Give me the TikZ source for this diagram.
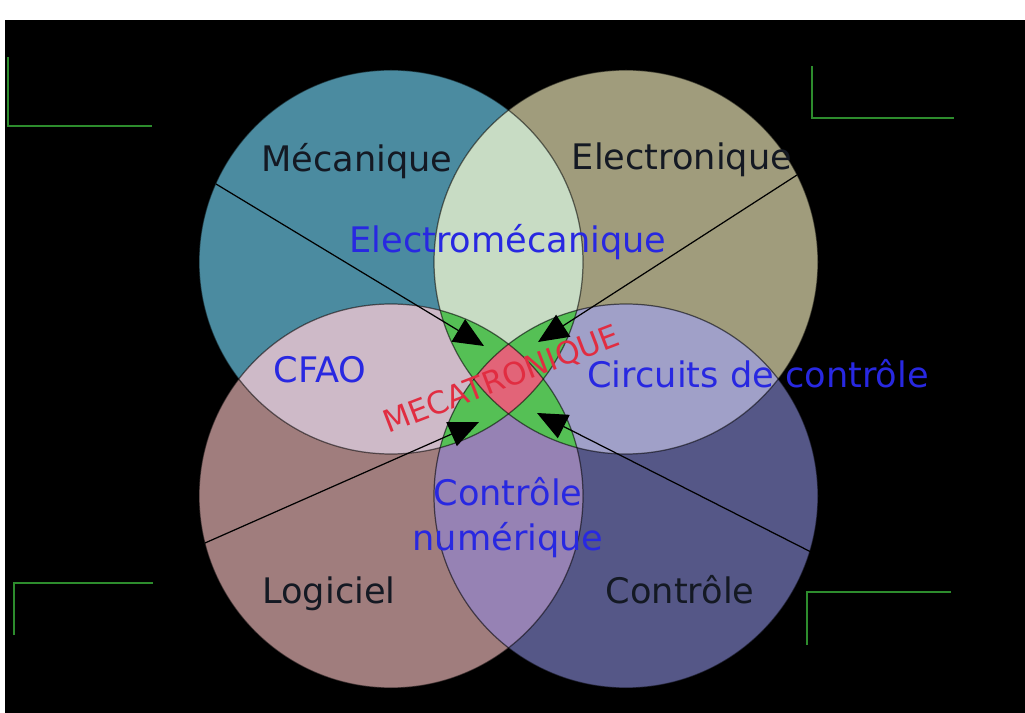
\documentclass[tikz,border=0pt]{standalone}
\usepackage{fontspec}
\setmainfont{DejaVu Sans}
\usetikzlibrary{arrows.meta}

\definecolor{mecacol}{RGB}{75,139,160}
\definecolor{eleccol}{RGB}{160,156,124}
\definecolor{logicol}{RGB}{160,125,125}
\definecolor{contcol}{RGB}{85,87,135}
\definecolor{emcol}{RGB}{200,220,196}
\definecolor{cfaocol}{RGB}{206,186,200}
\definecolor{circcol}{RGB}{160,160,200}
\definecolor{numcol}{RGB}{150,130,180}
\definecolor{triplecol}{RGB}{85,192,85}
\definecolor{centrecol}{RGB}{226,100,120}
\definecolor{coincol}{RGB}{45,140,45}
\definecolor{textenoir}{RGB}{20,25,35}
\definecolor{textebleu}{RGB}{40,40,225}
\definecolor{texterouge}{RGB}{225,45,65}

\begin{document}
\begin{tikzpicture}[x=0.01cm, y=-0.01cm,
    discipline/.style={font=\fontsize{10}{12}\selectfont, text=textenoir, anchor=base},
    fusion/.style={font=\fontsize{10}{12.8}\selectfont, text=textebleu, align=center},
    contour/.style={draw=black, draw opacity=0.55, line width=0.35pt},
    fleche/.style={draw=black, line width=0.35pt, -{Triangle[length=0.3cm, width=0.26cm]}},
    coin/.style={draw=coincol, line width=0.6pt}]
        % Fond
        \fill[white] (0,0) rectangle (1025,713);
        \fill[black] (5,20) rectangle (1025,713);
        \useasboundingbox (0,0) rectangle (1025,713);

        % Centres des quatre domaines
        \coordinate (meca) at (391,262);
        \coordinate (elec) at (626,262);
        \coordinate (logi) at (391,496);
        \coordinate (cont) at (626,496);

        % Disques
        \fill[mecacol] (meca) circle (192);
        \fill[eleccol] (elec) circle (192);
        \fill[logicol] (logi) circle (192);
        \fill[contcol] (cont) circle (192);

        % Intersections deux a deux
        \begin{scope}
            \clip (meca) circle (192);
            \fill[emcol] (elec) circle (192);
            \fill[cfaocol] (logi) circle (192);
        \end{scope}
        \begin{scope}
            \clip (cont) circle (192);
            \fill[circcol] (elec) circle (192);
            \fill[numcol] (logi) circle (192);
        \end{scope}

        % Intersections de trois domaines
        \begin{scope}
            \clip (meca) circle (192);
            \clip (elec) circle (192);
            \fill[triplecol] (logi) circle (192);
            \fill[triplecol] (cont) circle (192);
        \end{scope}
        \begin{scope}
            \clip (logi) circle (192);
            \clip (cont) circle (192);
            \fill[triplecol] (meca) circle (192);
            \fill[triplecol] (elec) circle (192);
        \end{scope}

        % Zone commune aux quatre domaines
        \begin{scope}
            \clip (meca) circle (192);
            \clip (elec) circle (192);
            \clip (logi) circle (192);
            \fill[centrecol] (cont) circle (192);
        \end{scope}

        % Contours
        \draw[contour] (meca) circle (192);
        \draw[contour] (elec) circle (192);
        \draw[contour] (logi) circle (192);
        \draw[contour] (cont) circle (192);

        % Fleches vers le centre
        \coordinate (mecaBord) at (216,184);
        \coordinate (mecaPointe) at (484,346);
        \coordinate (elecBord) at (797,175);
        \coordinate (elecPointe) at (538,342);
        \coordinate (logiBord) at (205,543);
        \coordinate (logiPointe) at (479,422);
        \coordinate (contBord) at (811,552);
        \coordinate (contPointe) at (537,413);
        \draw[fleche] (mecaBord) -- (mecaPointe);
        \draw[fleche] (elecBord) -- (elecPointe);
        \draw[fleche] (logiBord) -- (logiPointe);
        \draw[fleche] (contBord) -- (contPointe);

        % Reperes verts dans les coins
        \draw[coin] (8,57) -- (8,126) -- (152,126);
        \draw[coin] (812,66) -- (812,118) -- (954,118);
        \draw[coin] (14,635) -- (14,583) -- (153,583);
        \draw[coin] (807,645) -- (807,592) -- (951,592);

        % Noms des domaines
        \node[discipline] (nMeca) at (357,172) {Mécanique};
        \node[discipline] (nElec) at (682,170) {Electronique};
        \node[discipline] (nLogi) at (329,603) {Logiciel};
        \node[discipline] (nCont) at (680,603) {Contrôle};

        % Domaines croises
        \node[fusion, anchor=base] (nEM) at (508,253) {Electromécanique};
        \node[fusion, anchor=base] (nCFAO) at (320,383) {CFAO};
        \node[fusion, anchor=base] (nCirc) at (758,388) {Circuits de contrôle};
        \node[fusion] (nNum) at (508,518) {Contrôle\\numérique};

        % Centre
        \node[font=\fontsize{8.8}{10}\selectfont, text=texterouge, rotate=21] (nMecatro) at (502,380) {MECATRONIQUE};
\end{tikzpicture}
\end{document}
